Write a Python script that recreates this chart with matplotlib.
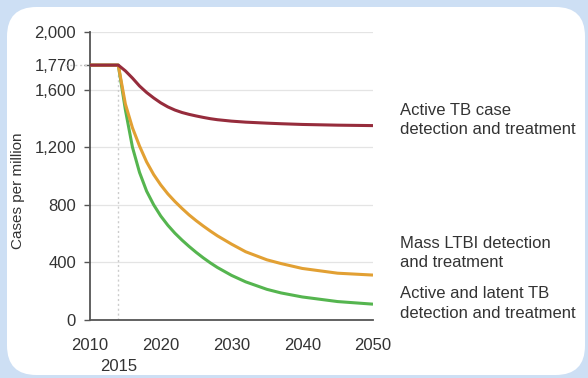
import matplotlib.pyplot as plt
import matplotlib.transforms as mtransforms
from matplotlib.patches import FancyBboxPatch

plt.rcParams['font.family'] = ['Liberation Sans', 'DejaVu Sans']

# Values (cases per million)
years = [2010, 2014, 2015, 2016, 2017, 2018, 2019, 2020, 2021, 2022, 2023,
         2024, 2025, 2026, 2027, 2028, 2030, 2032, 2035, 2037, 2040, 2045, 2050]
active_tb = [1770, 1770, 1730, 1680, 1625, 1580, 1542, 1508, 1480, 1458, 1441,
             1428, 1417, 1407, 1398, 1391, 1381, 1374, 1367, 1363, 1358, 1353, 1350]
mass_ltbi = [1770, 1770, 1500, 1335, 1208, 1098, 1010, 938, 876, 823, 775,
             730, 690, 653, 618, 585, 527, 474, 418, 392, 358, 325, 312]
active_latent = [1770, 1770, 1460, 1200, 1025, 895, 800, 722, 658, 603, 555,
                 511, 470, 432, 397, 365, 310, 265, 213, 188, 160, 128, 110]

labels = ["Active TB case\ndetection and treatment",
          "Mass LTBI detection\nand treatment",
          "Active and latent TB\ndetection and treatment"]
label_y = [1390, 468, 114]
colors = ['#962c3c', '#e2a033', '#55b54f']

start_year = 2014
start_value = 1770
yticks = [0, 400, 800, 1200, 1600, 2000]
xticks = [2010, 2020, 2030, 2040, 2050]

fig = plt.figure(figsize=(5.88, 3.78), dpi=100)
fig.patch.set_facecolor('#cddff4')

# white rounded panel
panel = FancyBboxPatch((7 / 588, 3 / 378), 578 / 588, 368 / 378,
                       boxstyle="round,pad=0,rounding_size=0.05",
                       transform=fig.transFigure, facecolor='white',
                       edgecolor='none', zorder=-5, mutation_aspect=588 / 378)
fig.patches.append(panel)

ax = fig.add_axes([90 / 588, 58 / 378, 283 / 588, 288 / 378])
ax.set_facecolor('none')
ax.set_zorder(2)

for yv in yticks[1:]:
    ax.axhline(yv, color='#e4e4e4', lw=0.9, zorder=1)
ax.plot([start_year, start_year], [0, start_value], color='#cccccc',
        lw=1, ls=(0, (1.5, 2)), zorder=1)

series = [active_tb, mass_ltbi, active_latent]
for vals, c in zip(series[::-1], colors[::-1]):
    ax.plot(years, vals, color=c, lw=2.2, zorder=3, solid_capstyle='butt')

ax.set_xlim(2010, 2050)
ax.set_ylim(0, 2000)
ax.set_yticks(yticks + [start_value])
ax.set_yticklabels([f"{v:,}" for v in yticks + [start_value]])
ax.set_xticks(xticks)
ax.set_xticklabels([str(v) for v in xticks])

ax.tick_params(axis='y', length=4, width=1, color='#555555', pad=6,
               labelsize=12, labelcolor='#333333')
ax.tick_params(axis='x', length=0, pad=13, labelsize=12, labelcolor='#333333')

for s in ['top', 'right']:
    ax.spines[s].set_visible(False)
for s in ['left', 'bottom']:
    ax.spines[s].set_color('#555555')
    ax.spines[s].set_linewidth(1.3)

# dotted marker for 1,770 between label and axis
trans = mtransforms.blended_transform_factory(ax.transAxes, ax.transData)
ax.plot([-0.09, 0], [start_value, start_value], transform=trans,
        color='#cccccc', lw=1, ls=(0, (1.5, 2)), clip_on=False)

# 2015 marker label under the axis
transx = mtransforms.blended_transform_factory(ax.transData, ax.transAxes)
ax.text(start_year, -0.16, "2015", transform=transx, ha='center', va='center',
        fontsize=12, color='#333333')

ax.set_ylabel("Cases per million", fontsize=11, color='#333333')
ax.yaxis.set_label_coords(-0.23, 0.45)

for txt, yv in zip(labels, label_y):
    ax.text(2053.8, yv, txt, ha='left', va='center', fontsize=12,
            color='#333333', linespacing=1.35, clip_on=False)

fig.savefig("out.png", dpi=100, facecolor=fig.get_facecolor())
